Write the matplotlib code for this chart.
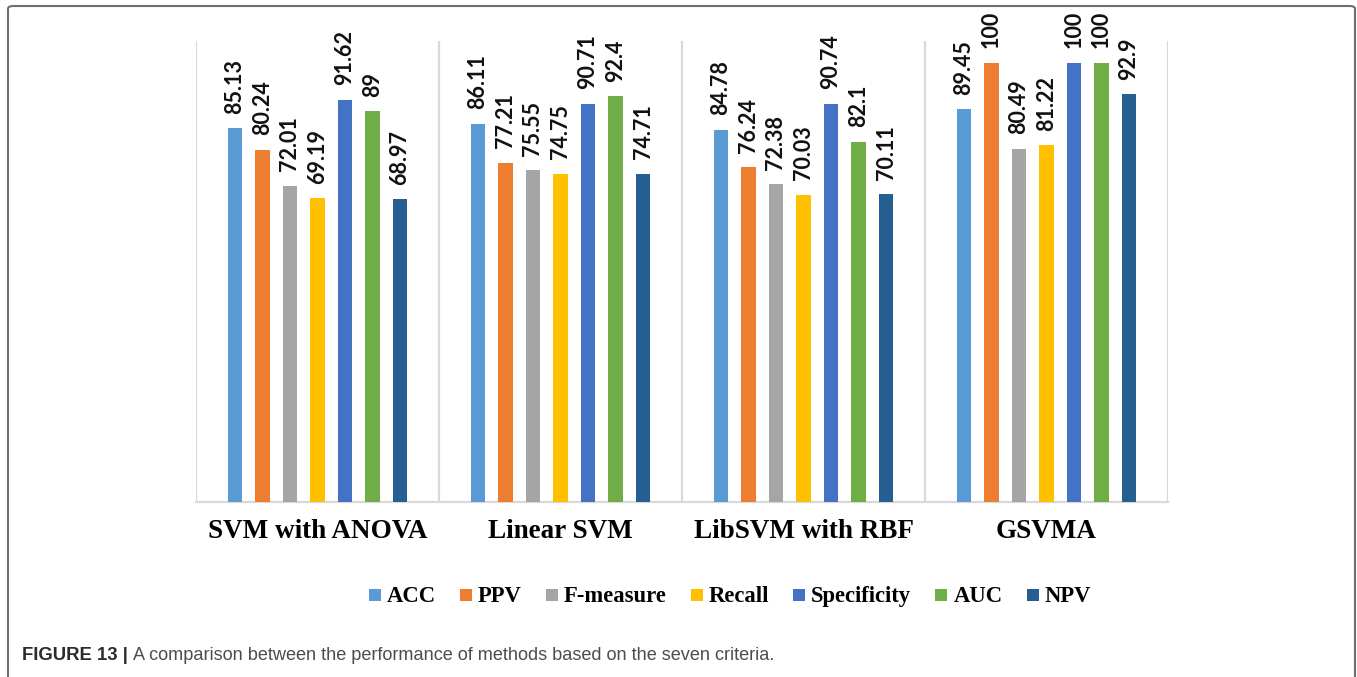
import numpy as np
import matplotlib
matplotlib.use("Agg")
import matplotlib.pyplot as plt
from matplotlib.patches import FancyBboxPatch, Rectangle

methods = ["SVM with ANOVA", "Linear SVM", "LibSVM with RBF", "GSVMA"]
criteria = ["ACC", "PPV", "F-measure", "Recall", "Specificity", "AUC", "NPV"]
colors = ["#5B9BD5", "#ED7D31", "#A5A5A5", "#FFC000", "#4472C4", "#70AD47", "#255E91"]

acc = [85.13, 86.11, 84.78, 89.45]
ppv = [80.24, 77.21, 76.24, 100]
fmeasure = [72.01, 75.55, 72.38, 80.49]
recall = [69.19, 74.75, 70.03, 81.22]
specificity = [91.62, 90.71, 90.74, 100]
auc = [89, 92.4, 82.1, 100]
npv = [68.97, 74.71, 70.11, 92.9]
series = [acc, ppv, fmeasure, recall, specificity, auc, npv]

W, H = 1357, 677
fig = plt.figure(figsize=(W / 100, H / 100), dpi=100)
ax = fig.add_axes([196 / W, (H - 502) / H, (1168 - 196) / W, (502 - 41) / H])

x = np.arange(len(methods))
step = 0.1132
width = 0.059
for i, (name, vals, c) in enumerate(zip(criteria, series, colors)):
    pos = x + (i - 3) * step
    ax.bar(pos, vals, width, color=c, label=name, zorder=3)
    for px, v in zip(pos, vals):
        ax.annotate(f"{v:g}", (px, v), xytext=(0, 10.5), textcoords="offset points",
                    rotation=90, ha="center", va="bottom", fontsize=15.5,
                    fontweight="bold", family="Lato", color="#111111")

ax.set_xlim(-0.5, 3.5)
ax.set_ylim(0, 105)
for b in np.arange(-0.5, 4.0, 1.0):
    ax.axvline(b, color="#D9D9D9", lw=1.6, zorder=1)
for s in ["top", "right", "left"]:
    ax.spines[s].set_visible(False)
ax.spines["bottom"].set_color("#D9D9D9")
ax.spines["bottom"].set_linewidth(1.6)
ax.set_yticks([])
ax.set_xticks(x)
ax.set_xticklabels(methods, fontsize=19.5, fontweight="bold", family="Liberation Serif")
ax.tick_params(axis="x", length=0, pad=12)

# legend row (drawn by hand so every label sits on one baseline)
renderer = fig.canvas.get_renderer()
sq, gap, colsep = 12, 6, 24
base_y = H - 602
texts = []
for name in criteria:
    t = fig.text(0, base_y / H, name, fontsize=16.3, fontweight="bold",
                 family="Liberation Serif", va="baseline", ha="left")
    texts.append(t)
widths = [t.get_window_extent(renderer).width for t in texts]
total = sum(sq + gap + w for w in widths) + colsep * (len(criteria) - 1)
cx = 730 - total / 2
for t, w, c in zip(texts, widths, colors):
    fig.patches.append(Rectangle((cx / W, (H - 601) / H), sq / W, sq / H,
                                 transform=fig.transFigure, facecolor=c, edgecolor="none"))
    t.set_x((cx + sq + gap) / W)
    cx += sq + gap + w + colsep

# outer frame
frame = FancyBboxPatch((8 / W, -20 / H), (1355 - 8) / W, (H - 6 + 20) / H,
                       boxstyle="round,pad=0,rounding_size=0.004",
                       transform=fig.transFigure, fill=False, edgecolor="#6E6E6E",
                       lw=1.5, clip_on=False)
fig.patches.append(frame)

# caption
cap_y = 1 - 655 / H
t1 = fig.text(22 / W, cap_y, "FIGURE 13 |", fontsize=13.3, fontweight="bold",
              family="Liberation Sans", color="#2B2B2B", va="center")
bb = t1.get_window_extent(renderer)
fig.text((bb.x1 + 5) / W, cap_y, "A comparison between the performance of methods based on the seven criteria.",
         fontsize=13.1, family="Liberation Sans", color="#4D4D4D", va="center")

fig.savefig("out.png", dpi=100)
